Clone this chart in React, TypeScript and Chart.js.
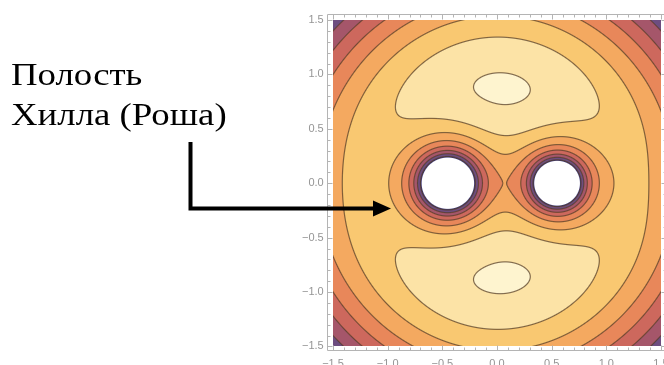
import React, { useEffect, useRef } from "react";
import { Chart, registerables } from "chart.js";

Chart.register(...registerables);

// ---- data ----
const bodyPositions = [-0.45, 0.55]; // x positions of the two stars (y = 0)
const bodyMasses = [0.55, 0.45];
const contourLevels = [-2.8, -2.6, -2.4, -2.2, -2.0, -1.8, -1.6, -1.4];
const clipLevel = -2.9;
const bandColors = [
  "#3f3877",
  "#6d4d80",
  "#a5566a",
  "#cd685d",
  "#e8875a",
  "#f4a960",
  "#f9c871",
  "#fce3a6",
  "#fef4cf",
];
const plotRange = [-1.5, 1.5];
const majorTicks = [-1.5, -1.0, -0.5, 0.0, 0.5, 1.0, 1.5];
const minorTicks = [
  -1.4, -1.3, -1.2, -1.1, -0.9, -0.8, -0.7, -0.6, -0.4, -0.3, -0.2, -0.1,
  0.1, 0.2, 0.3, 0.4, 0.6, 0.7, 0.8, 0.9, 1.1, 1.2, 1.3, 1.4,
];
const labelLines = ["Полость", "Хилла (Роша)"];

function hexToRgb(h: string) {
  const n = parseInt(h.slice(1), 16);
  return [(n >> 16) & 255, (n >> 8) & 255, n & 255];
}

function potential(x: number, y: number) {
  let v = -0.5 * (x * x + y * y);
  for (let i = 0; i < bodyPositions.length; i++) {
    const dx = x - bodyPositions[i];
    v -= bodyMasses[i] / Math.sqrt(dx * dx + y * y);
  }
  return v;
}

const fmt = (v: number) => {
  const s = Math.abs(v).toFixed(1);
  return v < -1e-9 ? "\u2212" + s : s;
};

const fieldPlugin = {
  id: "rocheField",
  beforeDatasetsDraw(chart: any) {
    const { ctx, scales } = chart;
    const sx = scales.x;
    const sy = scales.y;
    const x0 = Math.round(sx.getPixelForValue(plotRange[0]));
    const x1 = Math.round(sx.getPixelForValue(plotRange[1]));
    const y0 = Math.round(sy.getPixelForValue(plotRange[1]));
    const y1 = Math.round(sy.getPixelForValue(plotRange[0]));
    const w = x1 - x0;
    const h = y1 - y0;
    const W = w + 2;
    const H = h + 2;
    const f = new Float64Array(W * H);
    const xs = new Float64Array(W);
    const ys = new Float64Array(H);
    for (let i = 0; i < W; i++) xs[i] = sx.getValueForPixel(x0 + i - 1 + 0.5);
    for (let j = 0; j < H; j++) ys[j] = sy.getValueForPixel(y0 + j - 1 + 0.5);
    for (let j = 0; j < H; j++)
      for (let i = 0; i < W; i++) f[j * W + i] = potential(xs[i], ys[j]);

    const cols = bandColors.map(hexToRgb);
    const lineRgb = [84, 60, 38];
    const lineAlpha = 0.72;
    const halfW = 0.6;
    const off = document.createElement("canvas");
    off.width = w;
    off.height = h;
    const octx = off.getContext("2d")!;
    const img = octx.createImageData(w, h);
    const d = img.data;
    for (let j = 0; j < h; j++) {
      for (let i = 0; i < w; i++) {
        const k = (j + 1) * W + (i + 1);
        const v = f[k];
        const gx = (f[k + 1] - f[k - 1]) / 2;
        const gy = (f[k + W] - f[k - W]) / 2;
        const g = Math.sqrt(gx * gx + gy * gy) + 1e-9;
        let band = 0;
        while (band < contourLevels.length && v >= contourLevels[band]) band++;
        let r = cols[band][0];
        let gg = cols[band][1];
        let b = cols[band][2];
        let a = 0;
        for (let L = 0; L < contourLevels.length; L++) {
          const dist = Math.abs(v - contourLevels[L]) / g;
          const al = Math.min(1, Math.max(0, halfW + 0.5 - dist));
          if (al > a) a = al;
        }
        a *= lineAlpha;
        r = r * (1 - a) + lineRgb[0] * a;
        gg = gg * (1 - a) + lineRgb[1] * a;
        b = b * (1 - a) + lineRgb[2] * a;
        const cd = (v - clipLevel) / g;
        const vis = Math.min(1, Math.max(0, cd + 0.5));
        r = 255 * (1 - vis) + r * vis;
        gg = 255 * (1 - vis) + gg * vis;
        b = 255 * (1 - vis) + b * vis;
        const p = (j * w + i) * 4;
        d[p] = r;
        d[p + 1] = gg;
        d[p + 2] = b;
        d[p + 3] = 255;
      }
    }
    octx.putImageData(img, 0, 0);
    ctx.save();
    ctx.drawImage(off, x0, y0);
    ctx.restore();
  },
};

const framePlugin = {
  id: "mmaFrame",
  afterDraw(chart: any) {
    const { ctx, chartArea: a, scales } = chart;
    const sx = scales.x;
    const sy = scales.y;
    ctx.save();
    ctx.strokeStyle = "#b4b4b4";
    ctx.lineWidth = 1;
    ctx.beginPath();
    const L = Math.round(a.left) + 0.5;
    const R = Math.round(a.right) - 0.5;
    const T = Math.round(a.top) + 0.5;
    const B = Math.round(a.bottom) - 0.5;
    ctx.rect(L, T, R - L, B - T);
    const tickX = (v: number, len: number) => {
      const p = Math.round(sx.getPixelForValue(v)) + 0.5;
      ctx.moveTo(p, B);
      ctx.lineTo(p, B - len);
      ctx.moveTo(p, T);
      ctx.lineTo(p, T + len);
    };
    const tickY = (v: number, len: number) => {
      const p = Math.round(sy.getPixelForValue(v)) + 0.5;
      ctx.moveTo(L, p);
      ctx.lineTo(L + len, p);
      ctx.moveTo(R, p);
      ctx.lineTo(R - len, p);
    };
    majorTicks.forEach((v) => {
      tickX(v, 5);
      tickY(v, 5);
    });
    minorTicks.forEach((v) => {
      tickX(v, 3);
      tickY(v, 3);
    });
    ctx.stroke();
    ctx.restore();
  },
};

const CANVAS_W = 700;
const CANVAS_H = 365;

export default function App() {
  const ref = useRef<HTMLCanvasElement | null>(null);
  useEffect(() => {
    if (!ref.current) return;
    const tickFont = { family: "'Liberation Sans', Arial, sans-serif", size: 11 };
    const chart = new Chart(ref.current, {
      type: "scatter",
      data: { datasets: [] },
      options: {
        animation: false,
        responsive: false,
        devicePixelRatio: 1,
        events: [],
        layout: { padding: { left: 0, right: CANVAS_W - 667.3, top: 14, bottom: 0 } },
        plugins: { legend: { display: false }, tooltip: { enabled: false } },
        scales: {
          x: {
            type: "linear",
            position: "bottom",
            min: -1.5576,
            max: 1.5576,
            grid: { display: false, drawTicks: false },
            border: { display: false },
            afterBuildTicks: (s: any) => {
              s.ticks = majorTicks.map((v) => ({ value: v }));
            },
            afterFit: (s: any) => {
              s.height = CANVAS_H - 350.7;
            },
            ticks: {
              callback: (v: any) => fmt(Number(v)),
              color: "#959595",
              font: tickFont,
              padding: 7,
              maxRotation: 0,
              autoSkip: false,
            },
          },
          y: {
            type: "linear",
            position: "left",
            min: -1.539,
            max: 1.555,
            grid: { display: false, drawTicks: false },
            border: { display: false },
            afterBuildTicks: (s: any) => {
              s.ticks = majorTicks.map((v) => ({ value: v }));
            },
            afterFit: (s: any) => {
              s.width = 326.7;
            },
            ticks: {
              callback: (v: any) => fmt(Number(v)),
              color: "#959595",
              font: tickFont,
              padding: 3,
              autoSkip: false,
            },
          },
        },
      } as any,
      plugins: [fieldPlugin, framePlugin],
    });
    return () => chart.destroy();
  }, []);

  return (
    <div
      style={{
        position: "fixed",
        left: 0,
        top: 0,
        width: 664,
        height: 365,
        overflow: "hidden",
        background: "#fff",
      }}
    >
      <canvas
        ref={ref}
        width={CANVAS_W}
        height={CANVAS_H}
        style={{ position: "absolute", left: 0, top: 0, width: CANVAS_W, height: CANVAS_H }}
      />
      <div
        style={{
          position: "absolute",
          left: 11,
          top: 54,
          fontFamily: "'Liberation Serif', 'Times New Roman', serif",
          fontSize: 32,
          lineHeight: "40px",
          color: "#000",
          whiteSpace: "nowrap",
          transform: "scaleX(1.15)",
          transformOrigin: "0 0",
        }}
      >
        {labelLines.map((t, i) => (
          <div key={i}>{t}</div>
        ))}
      </div>
      <svg
        width={664}
        height={365}
        style={{ position: "absolute", left: 0, top: 0, pointerEvents: "none" }}
      >
        <path d="M190.5 142 V208.5 H376" fill="none" stroke="#000" strokeWidth={4} />
        <polygon points="373,200.5 391,208.5 373,216.5" fill="#000" />
      </svg>
    </div>
  );
}
